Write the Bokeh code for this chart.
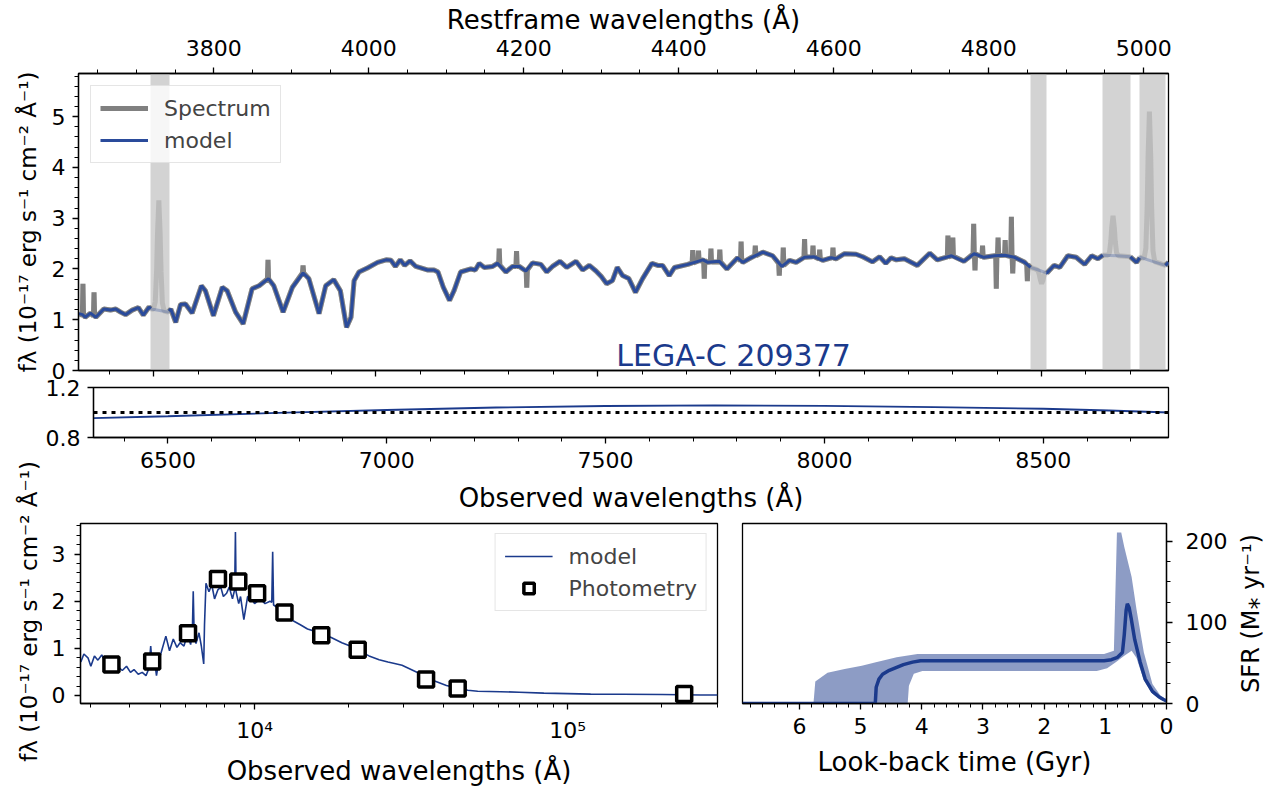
import math
import numpy as np
from bokeh.plotting import figure
from bokeh.models import (Range1d, LinearAxis, SingleIntervalTicker, FixedTicker,
                          Label, Legend, LegendItem, Span, CustomJSTickFormatter)
from bokeh.layouts import column, row
from bokeh.embed import file_html
from bokeh.resources import INLINE

FONT = "DejaVu Sans"
BLUE = "#1b3a8c"
MODEL_BLUE = "#2a4b9b"
GRAY = "#808080"
BAND = "#d3d3d3"
TICK = "22px"
LAB = "26px"
YLAB = "23px"

# ---------------- data ----------------
ONE_PLUS_Z = 1.746
obs_range = [6330, 8786]

model_wave = [6331, 6339, 6345, 6357, 6369, 6387, 6402, 6414, 6425, 6436,
              6451, 6465, 6476, 6489, 6494, 6513, 6532, 6538, 6549, 6560,
              6571, 6586, 6607, 6616, 6634, 6654, 6665, 6684, 6701, 6721,
              6737, 6758, 6770, 6791, 6812, 6836, 6849, 6872, 6887, 6905,
              6920, 6934, 6944, 6951, 6962, 6981, 7004, 7023, 7034, 7044,
              7055, 7065, 7077, 7090, 7116, 7131, 7140, 7152, 7166, 7176,
              7191, 7214, 7224, 7233, 7244, 7263, 7274, 7293, 7308, 7323,
              7338, 7353, 7372, 7385, 7398, 7415, 7430, 7451, 7466, 7481,
              7496, 7508, 7520, 7533, 7544, 7556, 7570, 7585, 7601, 7622,
              7635, 7646, 7661, 7673, 7703, 7737, 7748, 7774, 7791, 7815,
              7827, 7845, 7872, 7894, 7915, 7932, 7947, 7966, 7988, 8007,
              8026, 8037, 8056, 8082, 8097, 8119, 8135, 8149, 8161, 8173,
              8191, 8220, 8248, 8265, 8297, 8325, 8348, 8370, 8394, 8417,
              8439, 8462, 8475, 8493, 8512, 8528, 8541, 8559, 8578, 8597,
              8613, 8627, 8638, 8670, 8700, 8714, 8722, 8750, 8779, 8786]
model_flux = [1.12, 1.10, 1.05, 1.13, 1.05, 1.21, 1.19, 1.21, 1.15, 1.10,
              1.19, 1.24, 1.09, 1.25, 1.21, 1.18, 1.15, 1.21, 0.95, 1.30,
              1.31, 1.13, 1.67, 1.57, 1.08, 1.64, 1.57, 1.15, 0.92, 1.61,
              1.67, 1.81, 1.67, 1.15, 1.64, 1.92, 1.81, 1.12, 1.67, 1.79,
              1.57, 0.85, 1.05, 1.77, 1.94, 2.02, 2.13, 2.18, 2.17, 2.05,
              2.18, 2.07, 2.16, 2.05, 1.98, 1.98, 1.94, 1.64, 1.38, 1.57,
              1.94, 2.00, 1.98, 2.11, 2.03, 2.05, 2.11, 1.94, 2.05, 2.05,
              1.96, 2.12, 2.09, 1.94, 2.05, 2.15, 2.03, 2.15, 1.98, 2.07,
              1.96, 1.85, 1.71, 1.77, 2.03, 1.87, 1.81, 1.54, 1.81, 2.11,
              2.07, 2.07, 1.87, 2.03, 2.09, 2.18, 2.13, 2.15, 2.00, 2.22,
              2.13, 2.22, 2.33, 2.26, 2.05, 2.17, 2.13, 2.23, 2.24, 2.17,
              2.22, 2.20, 2.30, 2.29, 2.24, 2.14, 2.24, 2.11, 2.22, 2.18,
              2.20, 2.07, 2.31, 2.18, 2.26, 2.15, 2.30, 2.23, 2.26, 2.27,
              2.23, 2.13, 2.03, 1.98, 1.92, 2.07, 2.03, 2.26, 2.23, 2.09,
              2.26, 2.20, 2.27, 2.26, 2.24, 2.13, 2.23, 2.15, 2.07, 2.13]

# narrow noise spikes in the observed spectrum
spike_wave = [6340, 6365, 6757, 6836, 7278, 7317, 7340, 7714, 7727, 7740, 7755,
              7775, 7823, 7855, 7909, 7918, 7966, 7985, 8000, 8030, 8289, 8300,
              8347, 8350, 8367, 8398, 8402, 8418, 8432, 8435, 8468]
spike_flux = [1.71, 1.54, 2.18, 2.07, 2.40, 2.35, 1.63, 2.37, 2.36, 1.81, 2.40,
              2.38, 2.54, 2.46, 1.87, 2.42, 2.59, 2.46, 2.38, 2.42, 2.66, 2.62,
              2.89, 1.97, 2.46, 1.61, 2.62, 2.57, 3.03, 1.91, 1.76]
# emission lines ([OII], Hbeta, [OIII] 4959, [OIII] 5007)
line_wave = [6511, 8500, 8661, 8743]
line_flux = [3.35, 1.71, 3.05, 5.10]

mask_lo = [6493, 8475, 8638, 8721]
mask_hi = [6534, 8511, 8700, 8779]

ratio_wave = [6330, 6500, 6750, 7000, 7250, 7500, 7750, 8000, 8250, 8500, 8650, 8786]
ratio_val = [0.955, 0.970, 0.997, 1.020, 1.040, 1.052, 1.057, 1.053, 1.043, 1.030, 1.016, 1.000]

sed_wave = [2787, 2850, 2937, 3000, 3080, 3160, 3250, 3350, 3493, 3580,
            3674, 3780, 3900, 4015, 4120, 4250, 4377, 4500, 4600, 4659,
            4720, 4800, 4861, 4950, 5050, 5208, 5350, 5500, 5650, 5780,
            5950, 6100, 6250, 6330, 6370, 6410, 6500, 6645, 6760, 6880,
            6920, 6995, 7150, 7300, 7450, 7631, 7800, 7950, 8142, 8300,
            8500, 8640, 8687, 8730, 8900, 9020, 9243, 9500, 9739, 10000,
            10435, 10800, 11200, 11350, 11424, 11500, 11994, 12600, 13314, 14000,
            14760, 15800, 17570, 19000, 20200, 21500, 23210, 25000, 26660, 28000,
            29580, 31000, 32870, 35000, 37770, 41000, 44900, 48000, 51600, 61100,
            70000, 83950, 100000, 118400, 150000, 200000, 266000, 301000]
sed_flux = [0.71, 0.88, 0.80, 0.62, 0.84, 0.75, 0.86, 0.70, 0.78, 0.72,
            0.60, 0.53, 0.62, 0.49, 0.55, 0.45, 0.49, 0.42, 0.58, 1.05,
            0.55, 0.70, 0.42, 0.75, 0.95, 1.26, 0.95, 1.20, 1.02, 1.12,
            1.05, 1.30, 1.08, 1.40, 2.21, 1.35, 1.10, 1.33, 1.05, 0.67,
            1.50, 2.38, 2.20, 2.35, 2.05, 2.24, 2.30, 2.10, 2.17, 2.30,
            2.05, 2.25, 3.47, 2.20, 1.95, 2.10, 1.61, 2.10, 2.08, 1.95,
            2.05, 1.95, 2.00, 1.98, 3.05, 1.92, 1.84, 1.70, 1.58, 1.50,
            1.41, 1.35, 1.23, 1.12, 1.05, 0.95, 0.84, 0.76, 0.71, 0.68,
            0.64, 0.58, 0.50, 0.38, 0.30, 0.21, 0.15, 0.11, 0.09, 0.08,
            0.07, 0.05, 0.04, 0.03, 0.025, 0.02, 0.01, 0.01]

phot_wave = [3490, 4710, 6130, 7640, 8870, 10190, 12460, 16330, 21350, 35300, 44540, 235600]
phot_flux = [0.66, 0.72, 1.32, 2.47, 2.42, 2.17, 1.76, 1.28, 0.97, 0.34, 0.15, 0.03]

sfh_t = [6.93, 4.76, 4.745, 4.70, 4.64, 4.53, 4.40, 4.30, 4.15, 4.02, 1.02, 0.90, 0.80,
         0.72, 0.69, 0.66, 0.64, 0.61, 0.58, 0.52, 0.43, 0.35, 0.23, 0.12, 0.05, 0.0]
sfh_med = [0, 0, 20, 30, 36, 41, 45, 48, 51, 52.8, 52.8, 54, 57,
           63, 85, 115, 123, 118, 106, 79, 51, 30.5, 15, 8, 5, 3]
sfh_lo_t = [6.93, 4.23, 4.21, 4.13, 3.99, 1.14, 0.97, 0.83, 0.69, 0.57, 0.49, 0.37, 0.23, 0.10, 0.0]
sfh_lo = [0, 0, 22, 36.6, 40, 40, 43.5, 51, 59, 65, 56, 28.5, 12, 5, 2]
sfh_hi_t = [6.93, 5.77, 5.74, 5.54, 5.26, 4.98, 4.75, 4.41, 4.07, 1.02, 0.86, 0.81, 0.74,
            0.69, 0.57, 0.49, 0.37, 0.23, 0.10, 0.0]
sfh_hi = [0, 0, 27, 37.8, 42.7, 46.7, 50.8, 57, 61, 61, 65, 211, 211,
          193, 156, 116, 63, 24, 10, 5]

YLABEL = "fλ (10⁻¹⁷ erg s⁻¹ cm⁻² Å⁻¹)"
SFR_LABEL = "SFR (M⁎ yr⁻¹)"

# ---------------- helpers ----------------
def base_fig(**kw):
    p = figure(output_backend="svg", toolbar_location=None, **kw)
    p.grid.visible = False
    p.outline_line_color = "black"
    p.outline_line_width = 1.3
    p.background_fill_color = "white"
    p.border_fill_color = "white"
    return p


def style_axis(ax, tick_standoff=6, label_standoff=8):
    ax.axis_line_color = "black"
    ax.axis_line_width = 1.3
    ax.major_tick_line_color = "black"
    ax.major_tick_line_width = 1.3
    ax.major_tick_in = 0
    ax.major_tick_out = 6
    ax.minor_tick_line_color = "black"
    ax.minor_tick_line_width = 1.0
    ax.minor_tick_in = 0
    ax.minor_tick_out = 4
    ax.major_label_text_font = FONT
    ax.major_label_text_font_size = TICK
    ax.major_label_text_color = "black"
    ax.major_label_standoff = tick_standoff
    ax.axis_label_text_font = FONT
    ax.axis_label_text_font_size = LAB
    ax.axis_label_text_font_style = "normal"
    ax.axis_label_text_color = "black"
    ax.axis_label_standoff = label_standoff


def label_strip(text, width, height, border_left, top, bottom, standoff, size):
    """Empty figure whose only content is a left-axis title (reads bottom to top)."""
    s = figure(width=width, height=height, x_range=Range1d(0, 1), y_range=Range1d(0, 1),
               output_backend="svg", toolbar_location=None, x_axis_location=None,
               y_axis_location="left", min_border_left=border_left, min_border_right=0,
               min_border_top=top, min_border_bottom=bottom)
    s.grid.visible = False
    s.outline_line_color = None
    for ax in s.yaxis:
        style_axis(ax, tick_standoff=0, label_standoff=standoff)
        ax.ticker = FixedTicker(ticks=[])
        ax.major_tick_out = 0
        ax.minor_tick_out = 0
        ax.axis_line_color = None
        ax.axis_label = text
        ax.axis_label_text_font_size = size
    return s


def in_mask(w):
    return any(lo < w < hi for lo, hi in zip(mask_lo, mask_hi))


# ---------------- spectrum construction ----------------
mw = np.array(model_wave, float)
mf = np.array(model_flux, float)
assert len(mw) == len(mf)

mpts = list(zip(mw, mf)) + [(e, float(np.interp(e, mw, mf))) for e in mask_lo + mask_hi]
mpts.sort()
m_x = np.array([a for a, b in mpts])
m_y = np.array([b for a, b in mpts])
m_y_out = np.array([np.nan if in_mask(a) else b for a, b in mpts])

excl = [(w, 1.5) for w in spike_wave] + [(w, 12.5) for w in line_wave]
spts = [(a, b) for a, b in mpts if not any(abs(a - c) <= r for c, r in excl)]
for w, f in zip(spike_wave, spike_flux):
    b = float(np.interp(w, mw, mf))
    spts += [(w - 1.3, b), (w, f), (w + 1.3, b)]
offs = [-12, -8, -5, -3, 0, 3, 5, 8, 12]
for w, f in zip(line_wave, line_flux):
    pk = f - float(np.interp(w, mw, mf))
    for o in offs:
        b = float(np.interp(w + o, mw, mf))
        spts.append((w + o, b + pk * math.exp(-0.5 * (o / 3.5) ** 2)))
spts.sort()
s_x = np.array([a for a, b in spts])
s_y = np.array([b for a, b in spts])
s_y_out = np.array([np.nan if in_mask(a) else b for a, b in spts])

# ---------------- figure 1: spectrum ----------------
p1 = base_fig(width=1274, height=379, x_range=Range1d(*obs_range), y_range=Range1d(0, 5.85),
              min_border_left=78, min_border_right=106, min_border_top=73, min_border_bottom=9)
p1.vstrip(x0=mask_lo, x1=mask_hi, fill_color=BAND, line_color=None)
p1.line(s_x, s_y, line_color=GRAY, line_width=5, line_alpha=0.3)
p1.line(m_x, m_y, line_color=MODEL_BLUE, line_width=3, line_alpha=0.3)
r_spec = p1.line(s_x, s_y_out, line_color=GRAY, line_width=5)
r_mod = p1.line(m_x, m_y_out, line_color=MODEL_BLUE, line_width=3)

for ax in p1.xaxis:
    style_axis(ax)
    ax.ticker = SingleIntervalTicker(interval=500, num_minor_ticks=5)
    ax.formatter = CustomJSTickFormatter(code="return ''")
    ax.major_label_text_font_size = "1px"
    ax.major_label_standoff = 0
for ax in p1.yaxis:
    style_axis(ax, tick_standoff=7, label_standoff=8)
    ax.ticker = SingleIntervalTicker(interval=1, num_minor_ticks=5)
    ax.axis_label = YLABEL
    ax.axis_label_text_font_size = YLAB

p1.extra_x_ranges = {"rest": Range1d(obs_range[0] / ONE_PLUS_Z, obs_range[1] / ONE_PLUS_Z)}
top_ax = LinearAxis(x_range_name="rest", axis_label="Restframe wavelengths (Å)",
                    ticker=SingleIntervalTicker(interval=200, num_minor_ticks=4))
style_axis(top_ax, tick_standoff=12, label_standoff=2)
p1.add_layout(top_ax, "above")

leg1 = Legend(items=[LegendItem(label="Spectrum", renderers=[r_spec]),
                     LegendItem(label="model", renderers=[r_mod])],
              location="top_left", margin=12, padding=9, spacing=6,
              glyph_width=48, glyph_height=26, label_height=26, label_standoff=16,
              label_text_font=FONT, label_text_font_size=TICK,
              border_line_color="#cccccc", border_line_width=1,
              background_fill_alpha=0.8)
p1.add_layout(leg1)
p1.add_layout(Label(x=7806, y=0.30, text="LEGA-C 209377", text_align="center",
                    text_baseline="alphabetic", text_font=FONT, text_font_size="30px",
                    text_color=BLUE))

# ---------------- figure 2: ratio ----------------
p2 = base_fig(width=1232, height=136, x_range=p1.x_range, y_range=Range1d(0.8, 1.2),
              min_border_left=36, min_border_right=106, min_border_top=8, min_border_bottom=78)
p2.line(ratio_wave, ratio_val, line_color=BLUE, line_width=1.8)
p2.add_layout(Span(location=1.0, dimension="width", line_color="black",
                   line_width=3, line_dash="4 5"))
for ax in p2.xaxis:
    style_axis(ax, tick_standoff=8, label_standoff=12)
    ax.ticker = SingleIntervalTicker(interval=500, num_minor_ticks=5)
    ax.axis_label = "Observed wavelengths (Å)"
for ax in p2.yaxis:
    style_axis(ax, tick_standoff=7)
    ax.ticker = FixedTicker(ticks=[0.8, 1.2])

# ---------------- figure 3: SED ----------------
assert len(sed_wave) == len(sed_flux)
p3 = base_fig(width=688, height=273, x_axis_type="log", x_range=Range1d(2780, 301000),
              y_range=Range1d(-0.17, 3.65),
              min_border_left=38, min_border_right=13, min_border_top=8, min_border_bottom=83)
r_sed = p3.line(sed_wave, sed_flux, line_color=BLUE, line_width=1.6)
r_phot = p3.scatter(phot_wave, phot_flux, marker="square", size=15, fill_color="white",
                    line_color="black", line_width=3.5)
minor_log = [m * 10 ** e for e in (3, 4, 5) for m in range(2, 10) if 2780 <= m * 10 ** e <= 301000]
for ax in p3.xaxis:
    style_axis(ax, tick_standoff=8, label_standoff=10)
    ax.ticker = FixedTicker(ticks=[10000, 100000], minor_ticks=minor_log)
    ax.major_label_overrides = {10000: "10⁴", 100000: "10⁵"}
    ax.axis_label = "Observed wavelengths (Å)"
for ax in p3.yaxis:
    style_axis(ax, tick_standoff=9)
    ax.ticker = SingleIntervalTicker(interval=1, num_minor_ticks=5)
leg3 = Legend(items=[LegendItem(label="model", renderers=[r_sed]),
                     LegendItem(label="Photometry", renderers=[r_phot])],
              location="top_right", margin=10, padding=9, spacing=6,
              glyph_width=48, glyph_height=26, label_height=26, label_standoff=16,
              label_text_font=FONT, label_text_font_size=TICK,
              border_line_color="#cccccc", border_line_width=1,
              background_fill_alpha=0.8)
p3.add_layout(leg3)

# ---------------- figure 4: SFH ----------------
p4 = base_fig(width=500, height=273, x_range=Range1d(6.93, 0), y_range=Range1d(0, 222),
              y_axis_location="right",
              min_border_left=12, min_border_right=62, min_border_top=8, min_border_bottom=83)
band_x = list(sfh_hi_t) + list(reversed(sfh_lo_t))
band_y = list(sfh_hi) + list(reversed(sfh_lo))
p4.patch(band_x, band_y, fill_color=BLUE, fill_alpha=0.5, line_color=None)
p4.line(sfh_t, sfh_med, line_color=BLUE, line_width=3.5)
for ax in p4.xaxis:
    style_axis(ax, tick_standoff=8, label_standoff=10)
    ax.ticker = SingleIntervalTicker(interval=1, num_minor_ticks=5)
    ax.axis_label = "Look-back time (Gyr)"
for ax in p4.yaxis:
    style_axis(ax, tick_standoff=13)
    ax.ticker = SingleIntervalTicker(interval=100, num_minor_ticks=4)

# title strips (axis titles that span beyond a single canvas)
lab = label_strip(YLABEL, 42, 406, 40, 141, 83, -1, YLAB)
sfr = label_strip(SFR_LABEL, 44, 273, 42, 8, 83, 8, "24px")

layout = column(p1, row(lab, column(p2, row(p3, p4, sfr))))
open("out.html", "w").write(file_html(layout, INLINE, title="LEGA-C 209377"))
